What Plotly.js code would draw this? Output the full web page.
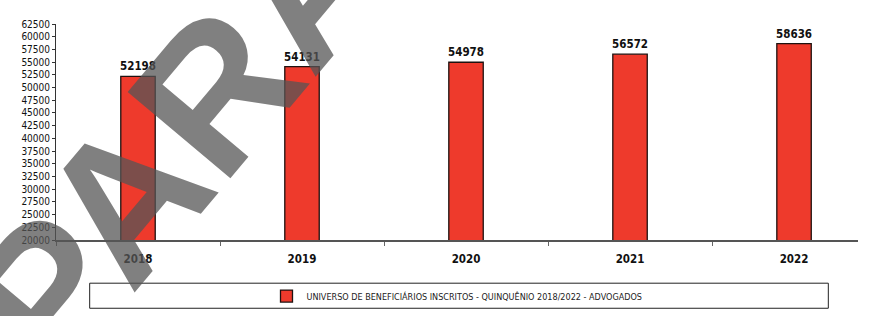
<!DOCTYPE html>
<html><head><meta charset="utf-8">
<script src="https://cdn.plot.ly/plotly-3.0.1.min.js"></script>
<style>html,body{margin:0;padding:0;background:#fff}</style>
</head><body><div id="chart" style="width:873px;height:316px"></div>
<script>
const categories = ["2018", "2019", "2020", "2021", "2022"];
const values = [52198, 54131, 54978, 56572, 58636];
const seriesName = "UNIVERSO DE BENEFICIÁRIOS INSCRITOS - QUINQUÊNIO 2018/2022 - ADVOGADOS";
const watermark = "PARA";

const trace = {
  type: "bar",
  x: categories,
  y: values,
  name: seriesName,
  width: 0.21,
  marker: {color: "#ee3a2c", line: {color: "#1e1210", width: 1.3}},
  text: values.map(String),
  textposition: "outside",
  constraintext: "none",
  cliponaxis: false,
  textfont: {family: "DejaVu Sans Condensed", size: 11.5, color: "#111", weight: "bold"},
  showlegend: true
};

const layout = {
  width: 873, height: 316,
  margin: {l: 56, r: 15, t: 24, b: 76},
  paper_bgcolor: "#fff", plot_bgcolor: "#fff",
  bargap: 0,
  xaxis: {
    type: "category", range: [-0.5, 4.39],
    showline: true, linecolor: "#555", linewidth: 2,
    ticks: "outside", tickson: "boundaries", ticklen: 4, tickcolor: "#666",
    ticklabelstandoff: 7,
    tickfont: {family: "DejaVu Sans Condensed", size: 11.5, color: "#111", weight: "bold"},
    showgrid: false, zeroline: false
  },
  yaxis: {
    range: [20000, 62500], dtick: 2500, tick0: 20000, tickformat: "d",
    showline: true, linecolor: "#333", linewidth: 1,
    ticks: "outside", ticklen: 3, tickcolor: "#333",
    tickfont: {family: "DejaVu Sans Condensed", size: 10, color: "#111"},
    showgrid: false, zeroline: false
  },
  showlegend: true,
  legend: {
    orientation: "h", x: 0.5, xanchor: "center",
    yref: "container", y: 0.063, yanchor: "middle",
    font: {family: "DejaVu Sans Condensed", size: 9, color: "#222"},
    bgcolor: "rgba(0,0,0,0)", itemwidth: 30
  },
  shapes: [{
    type: "rect", xref: "paper", yref: "paper",
    x0: 0.042, x1: 0.963, y0: -0.316, y1: -0.2,
    line: {color: "#222", width: 1}
  }],
  annotations: [{
    text: "<b>" + watermark + "</b>", xref: "paper", yref: "paper",
    x: 0.152, y: 0.486, xanchor: "center", yanchor: "middle",
    showarrow: false, textangle: -50,
    font: {family: "Liberation Sans", size: 195, color: "rgba(85,85,85,0.75)"}
  }]
};

Plotly.newPlot("chart", [trace], layout, {displayModeBar: false, staticPlot: true});
</script></body></html>
